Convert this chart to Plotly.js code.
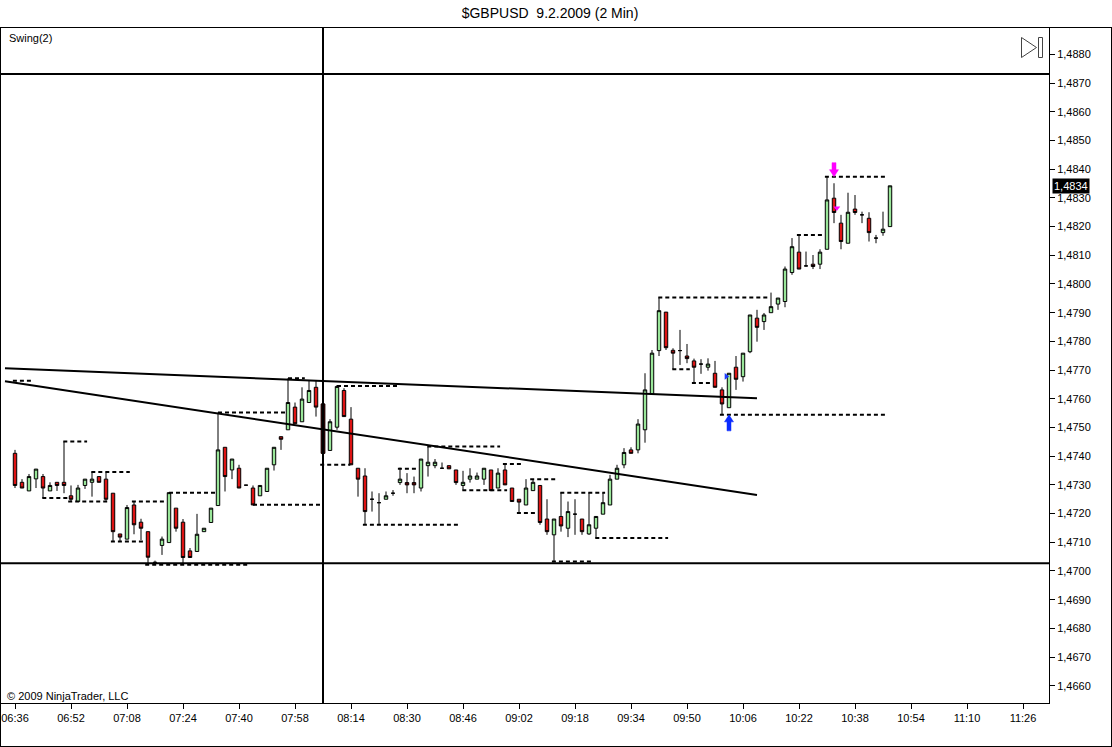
<!DOCTYPE html>
<html>
<head>
<meta charset="utf-8">
<script src="https://cdn.plot.ly/plotly-3.0.1.min.js"></script>
<style>html,body{margin:0;padding:0;background:#fff;}#chart{width:1112px;height:747px;}</style>
</head>
<body>
<div id="chart"></div>
<script>
// ---- data ----
const tickLabels = ['06:36','06:52','07:08','07:24','07:40','07:58','08:14','08:30','08:46','09:02','09:18','09:34','09:50','10:06','10:22','10:38','10:54','11:10','11:26'];

const opens = [1.4741,1.47309,1.47279,1.47321,1.47329,1.47279,1.47309,1.47309,1.47262,1.47242,
1.47298,1.47309,1.47329,1.4732,1.47271,1.47129,1.47111,1.4723,1.4717,1.47137,
1.4703,1.47089,1.47099,1.47219,1.4717,1.4707,1.47068,1.47137,1.47169,1.47228,
1.47431,1.47352,1.47358,1.47299,1.47289,1.47262,1.47277,1.4737,1.47468,1.47492,
1.47571,1.4752,1.47587,1.4764,1.47582,1.4742,1.47501,1.47629,1.47529,1.47358,
1.47331,1.4725,1.47238,1.4725,1.47271,1.47308,1.47308,1.47308,1.47289,1.47367,
1.47367,1.47358,1.47367,1.47352,1.47298,1.4732,1.4732,1.4732,1.47352,1.47289,
1.47352,1.47289,1.4725,1.4723,1.4728,1.47298,1.47181,1.47126,1.4719,1.47149,
1.47198,1.47181,1.47129,1.47149,1.47198,1.4723,1.4732,1.4737,1.47422,1.47422,
1.47492,1.47616,1.47768,1.47902,1.47769,1.47768,1.47749,1.47732,1.47721,1.4771,
1.47689,1.47631,1.47569,1.4771,1.47677,1.47764,1.47881,1.47869,1.479,1.4793,
1.47939,1.4804,1.48111,1.48063,1.48069,1.48069,1.48121,1.48299,1.48212,1.48142,
1.48261,1.48241,1.48229,1.4816,1.48179,1.482];
const highs = [1.47422,1.4732,1.47338,1.47355,1.47338,1.47309,1.47309,1.47451,1.47298,1.473,
1.4732,1.47344,1.47329,1.47343,1.47271,1.47129,1.4723,1.47242,1.47182,1.47137,
1.47036,1.4712,1.47273,1.47219,1.47181,1.4708,1.47199,1.47149,1.47219,1.47552,
1.47431,1.4739,1.4737,1.47299,1.47298,1.47298,1.47358,1.47431,1.47468,1.47672,
1.47587,1.4764,1.47663,1.47663,1.47599,1.47529,1.47648,1.47637,1.47571,1.47358,
1.47358,1.47277,1.47271,1.47277,1.47282,1.4736,1.47341,1.47329,1.4739,1.47433,
1.4739,1.47378,1.47367,1.47352,1.47349,1.47358,1.47343,1.47358,1.47352,1.47358,
1.47373,1.47289,1.4725,1.4732,1.4732,1.47298,1.4725,1.47181,1.47273,1.47242,
1.4725,1.47181,1.47273,1.4719,1.47273,1.47335,1.4737,1.47428,1.47431,1.47529,
1.47689,1.4777,1.47953,1.47902,1.47776,1.4784,1.47791,1.4774,1.47738,1.47741,
1.47732,1.4764,1.47689,1.47749,1.47759,1.47892,1.4791,1.47899,1.4797,1.47951,
1.48061,1.4816,1.48171,1.48113,1.48101,1.48121,1.48374,1.48351,1.48241,1.48318,
1.4831,1.48252,1.4825,1.48171,1.48252,1.48342];
const lows = [1.47289,1.47289,1.47279,1.47289,1.47254,1.47279,1.47279,1.47271,1.47242,1.47242,
1.47286,1.47259,1.47309,1.47245,1.47102,1.47102,1.47111,1.47128,1.47108,1.47021,
1.47021,1.47056,1.47099,1.47137,1.47027,1.47047,1.47068,1.47137,1.47169,1.47228,
1.47277,1.4732,1.47289,1.47299,1.4723,1.47262,1.47277,1.4735,1.47422,1.47492,
1.47513,1.4752,1.47587,1.47538,1.4737,1.4742,1.47492,1.47538,1.4737,1.47259,
1.47161,1.47207,1.47161,1.4725,1.47262,1.473,1.47271,1.47271,1.47277,1.47329,
1.47358,1.47358,1.47356,1.473,1.47283,1.47308,1.4732,1.473,1.4728,1.47289,
1.473,1.47242,1.47201,1.4723,1.4728,1.47161,1.47126,1.47033,1.47137,1.47118,
1.47126,1.47126,1.47126,1.47114,1.47198,1.4723,1.4732,1.47358,1.4741,1.4741,
1.47447,1.47616,1.47749,1.4777,1.47703,1.47718,1.47724,1.47654,1.47687,1.47698,
1.4764,1.47544,1.47569,1.47631,1.4766,1.47759,1.47799,1.4784,1.479,1.4791,
1.47919,1.48032,1.48052,1.48061,1.48052,1.48052,1.48121,1.48212,1.48121,1.48142,
1.48241,1.48212,1.48148,1.48142,1.48168,1.482];
const closes = [1.47298,1.47289,1.47329,1.47355,1.47289,1.47298,1.47298,1.47298,1.4725,1.47289,
1.4732,1.4732,1.47309,1.4725,1.47137,1.47118,1.47221,1.47161,1.47149,1.47048,
1.4703,1.47111,1.47273,1.47149,1.47047,1.47047,1.47128,1.47149,1.47219,1.47422,
1.47329,1.4739,1.47289,1.47299,1.4723,1.47298,1.47358,1.47431,1.47459,1.47587,
1.47513,1.47599,1.47629,1.47571,1.4741,1.4752,1.47643,1.47538,1.4737,1.4732,
1.47207,1.4725,1.47238,1.47262,1.47271,1.4732,1.473,1.473,1.4739,1.47379,
1.47379,1.47358,1.47356,1.47308,1.47309,1.47331,1.47331,1.47358,1.4728,1.47341,
1.473,1.47242,1.4724,1.47289,1.47309,1.47169,1.47137,1.47181,1.47157,1.47207,
1.47198,1.47137,1.47161,1.4719,1.47238,1.4732,1.47358,1.47413,1.4741,1.47512,
1.47631,1.47759,1.47907,1.47778,1.47759,1.47768,1.4774,1.4771,1.47721,1.47721,
1.4764,1.47582,1.47689,1.47668,1.47759,1.47892,1.47849,1.47892,1.47921,1.47951,
1.48052,1.4813,1.48052,1.48063,1.48061,1.48111,1.48293,1.48249,1.48148,1.4825,
1.48249,1.48241,1.48179,1.4816,1.48191,1.48342];

// Swing(2) indicator levels and the bar span each dashed line covers
const swingPrice = [1.47663,1.47451,1.47345,1.47242,1.47273,1.47552,1.47672,1.47645,1.47356,1.47434,1.47373,1.4732,1.47273,1.47953,1.48171,1.48374,
                    1.47254,1.47242,1.47103,1.47022,1.47231,1.4737,1.47161,1.47281,1.47202,1.47033,1.47115,1.47703,1.47655,1.47544];
const swingFrom  = [-0.3,6.9,10.9,16.7,22,29,39,46,54.7,58.9,69.7,73.6,77.9,91.9,111.7,115.7,
                    3.9,7.6,13.7,18.6,34,43.6,49.7,63.9,71.7,76.7,82.9,93.9,96.7,100.7];
const swingTo    = [2.4,10.3,16.4,21.4,28.6,38.6,41.4,54.6,57.4,69.3,72.4,77.4,84.3,107.9,115.4,124.6,
                    7.6,13.3,18.3,33.6,43.6,47.9,63.3,70.3,74.6,82.4,93.3,96.4,99.6,124.3];

// drawn trend lines
const trendFromBar   = [-1.43, -1.43];
const trendFromPrice = [1.47706, 1.47661];
const trendToBar     = [106, 106];
const trendToPrice   = [1.47602, 1.47265];

// horizontal lines and cursor
const hLevels = [1.48732, 1.47027];
const cursorBar = 44;

// signal arrows (bar, price at arrow tip)
const buySignalBar = 102, buySignalPrice = 1.47544;
const sellSignalBar = 117, sellSignalPrice = 1.48374;

// ---- build ----
const xs = opens.map((_, i) => i);
const tickvals = tickLabels.map((_, k) => k * 8);

const FONT = 'Liberation Sans, Arial, sans-serif';
const candle = {
  type: 'candlestick', x: xs, open: opens, high: highs, low: lows, close: closes,
  increasing: {line: {color: '#000', width: 1}, fillcolor: '#99e699'},
  decreasing: {line: {color: '#000', width: 1}, fillcolor: '#dd1414'},
  whiskerwidth: 0, hoverinfo: 'skip', showlegend: false
};
const sel = {
  type: 'candlestick', x: [xs[cursorBar]], open: [opens[cursorBar]], high: [highs[cursorBar]],
  low: [lows[cursorBar]], close: [closes[cursorBar]],
  increasing: {line: {color: '#1a0000', width: 1}, fillcolor: '#661414'},
  decreasing: {line: {color: '#1a0000', width: 1}, fillcolor: '#661414'},
  hoverinfo: 'skip', showlegend: false
};

const sx = [], sy = [];
swingPrice.forEach((p, k) => { sx.push(swingFrom[k], swingTo[k], null); sy.push(p, p, null); });
const swing = {type: 'scatter', mode: 'lines', x: sx, y: sy, connectgaps: false,
  line: {color: '#000', width: 2, dash: '4px,3px'}, hoverinfo: 'skip', showlegend: false};

const trends = {type: 'scatter', mode: 'lines', x: [], y: [], line: {color: '#000', width: 2}, hoverinfo: 'skip', showlegend: false};
trendFromBar.forEach((b, k) => { trends.x.push(b, trendToBar[k], null); trends.y.push(trendFromPrice[k], trendToPrice[k], null); });

const smallMarks = {type: 'scatter', mode: 'markers', x: [101.6, 117.4], y: [1.47678, 1.48265],
  marker: {symbol: ['triangle-right', 'triangle-down'], size: 6, color: ['#1f3fff', '#ff00ff']},
  hoverinfo: 'skip', showlegend: false};

const xp = px => (px - 1) / 1048;
const yp = py => (703 - py) / 675;

const shapes = [];
hLevels.forEach(l => shapes.push({type: 'line', xref: 'paper', yref: 'y', x0: 0, x1: 1, y0: l, y1: l, line: {color: '#000', width: 2}}));
shapes.push({type: 'line', xref: 'x', yref: 'paper', x0: cursorBar, x1: cursorBar, y0: 0, y1: 1, line: {color: '#000', width: 2}});
// outer frame
shapes.push({type: 'line', xref: 'paper', yref: 'paper', x0: xp(0.5), x1: xp(0.5), y0: yp(27), y1: yp(746.5), line: {color: '#000', width: 1}});
shapes.push({type: 'line', xref: 'paper', yref: 'paper', x0: xp(1111.5), x1: xp(1111.5), y0: yp(27), y1: yp(746.5), line: {color: '#000', width: 1}});
shapes.push({type: 'line', xref: 'paper', yref: 'paper', x0: xp(0), x1: xp(1112), y0: yp(746.5), y1: yp(746.5), line: {color: '#000', width: 1}});
shapes.push({type: 'line', xref: 'paper', yref: 'paper', x0: xp(0), x1: xp(1112), y0: yp(27.5), y1: yp(27.5), line: {color: '#000', width: 1}});
// "scroll to end" icon
shapes.push({type: 'path', xref: 'paper', yref: 'paper',
  path: `M ${xp(1021.5)} ${yp(37.5)} L ${xp(1036.5)} ${yp(47.5)} L ${xp(1021.5)} ${yp(57.5)} Z`,
  line: {color: '#444', width: 1}, fillcolor: 'rgba(0,0,0,0)'});
shapes.push({type: 'rect', xref: 'paper', yref: 'paper', x0: xp(1038.5), x1: xp(1042.5), y0: yp(37.5), y1: yp(57.5),
  line: {color: '#444', width: 1}, fillcolor: 'rgba(0,0,0,0)'});
// signal arrows (pixel-sized, anchored to the data point)
shapes.push({type: 'path', xref: 'x', yref: 'y', xsizemode: 'pixel', ysizemode: 'pixel',
  xanchor: buySignalBar, yanchor: buySignalPrice,
  path: 'M 0 0 L 4.5 -7 L 2 -7 L 2 -16 L -2 -16 L -2 -7 L -4.5 -7 Z',
  fillcolor: '#0a2bff', line: {color: '#0a2bff', width: 0.5}});
shapes.push({type: 'path', xref: 'x', yref: 'y', xsizemode: 'pixel', ysizemode: 'pixel',
  xanchor: sellSignalBar, yanchor: sellSignalPrice,
  path: 'M 0 0 L 4.5 7 L 2 7 L 2 14 L -2 14 L -2 7 L -4.5 7 Z',
  fillcolor: '#ff00ff', line: {color: '#ff00ff', width: 0.5}});

const lastClose = closes[closes.length - 1];
const annotations = [
  {xref: 'paper', yref: 'paper', x: xp(7), y: yp(38), xanchor: 'left', yanchor: 'middle', showarrow: false,
   text: 'Swing(2)', font: {family: FONT, size: 11, color: '#000'}},
  {xref: 'paper', yref: 'paper', x: xp(5), y: yp(696), xanchor: 'left', yanchor: 'middle', showarrow: false,
   text: '\u00a9 2009 NinjaTrader, LLC', font: {family: FONT, size: 11, color: '#000'}},
  {xref: 'paper', yref: 'y', x: 1, y: lastClose, xanchor: 'left', yanchor: 'middle', xshift: 3, showarrow: false,
   text: lastClose.toFixed(4).replace('.', ','), bgcolor: '#000', borderpad: 1,
   font: {family: FONT, size: 11, color: '#fff'}}
];

const layout = {
  width: 1112, height: 747,
  margin: {l: 1, r: 63, t: 28, b: 44, pad: 0},
  paper_bgcolor: '#fff', plot_bgcolor: '#fff',
  separators: ',.',
  showlegend: false, hovermode: false,
  title: {text: '$GBPUSD\u00a0\u00a09.2.2009 (2 Min)', xref: 'container', yref: 'container',
          x: 550 / 1112, y: 1 - 13 / 747, xanchor: 'center', yanchor: 'middle',
          font: {family: FONT, size: 14, color: '#000'}},
  xaxis: {range: [-2, 147.714], tickvals: tickvals, ticktext: tickLabels, ticks: 'outside', ticklen: 5,
          tickcolor: '#000', showline: true, linecolor: '#000', linewidth: 1, mirror: true,
          showgrid: false, zeroline: false, rangeslider: {visible: false}, fixedrange: true,
          tickfont: {family: FONT, size: 11, color: '#000'}},
  yaxis: {range: [1.46540, 1.48892], side: 'right', tick0: 1.466, dtick: 0.001, tickformat: '.4f',
          ticks: 'outside', ticklen: 5, tickcolor: '#000', showline: true, linecolor: '#000', linewidth: 1,
          mirror: true, showgrid: false, zeroline: false, fixedrange: true,
          tickfont: {family: FONT, size: 11, color: '#000'}},
  shapes: shapes, annotations: annotations
};

Plotly.newPlot('chart', [candle, sel, swing, trends, smallMarks], layout, {staticPlot: true, displayModeBar: false});
</script>
</body>
</html>
